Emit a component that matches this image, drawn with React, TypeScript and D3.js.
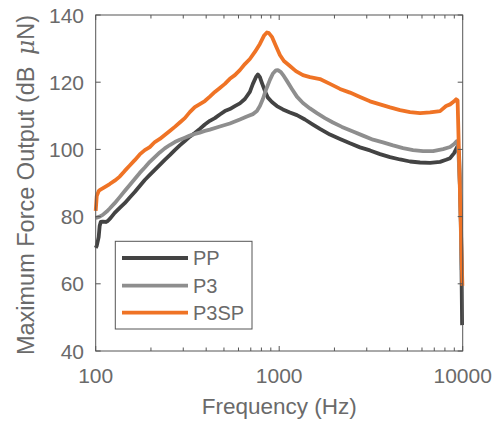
import React from 'react';
import * as d3 from 'd3';

const W = 498;
const H = 421;
const PLOT = { left: 95.7, right: 462.7, top: 15, bottom: 351 };

const FONT = '"Liberation Sans", Arial, sans-serif';
const TEXT_COLOR = '#6a6a6a';
const AXIS_COLOR = '#555555';

// PP
const ppFreq = [100, 101.3, 103.8, 105.1, 106.5, 109.2, 113.4, 116.3, 120.7, 126.9, 135.2, 143.9, 153.3, 163.2, 173.8, 185.1, 197.1, 209.9, 223.5, 237.9, 253.3, 269.8, 287.3, 305.9, 325.7, 346.8, 369.3, 393.3, 418.8, 446, 474.9, 505.7, 538.3, 573.3, 610.5, 650.1, 692.1, 718.7, 746.4, 765.4, 784.9, 804.8, 835.7, 867.8, 912.7, 971.4, 1047.6, 1144, 1249, 1381, 1527, 1667, 1891, 2144, 2431, 2756, 3125, 3543, 4018, 4556, 5164, 5856, 6641, 7528, 8118, 8537, 8978, 9204, 9379, 9559, 9801, 9925];
const ppDb = [70.7, 71.3, 73.9, 77.2, 78.4, 78.5, 78.4, 78.7, 79.6, 81.1, 82.6, 84.0, 85.7, 87.3, 89.1, 90.9, 92.4, 93.9, 95.4, 96.9, 98.3, 99.8, 101.2, 102.5, 103.8, 104.9, 106.1, 107.4, 108.5, 109.3, 110.4, 111.4, 112.0, 112.9, 113.7, 115.0, 117.1, 119.5, 121.5, 122.3, 121.5, 119.8, 117.4, 115.4, 114.1, 112.9, 111.9, 111.0, 110.2, 108.9, 107.4, 106.1, 104.4, 103.1, 101.8, 100.6, 99.7, 98.6, 97.7, 97.0, 96.4, 96.1, 96.0, 96.3, 96.9, 97.4, 98.9, 100.1, 101.0, 98.3, 76.0, 47.7];

// P3
const p3Freq = [100, 101.3, 105.1, 109.2, 114.8, 119.2, 126.9, 135.2, 143.9, 153.3, 163.2, 173.8, 185.1, 197.1, 209.9, 223.5, 237.9, 253.3, 269.8, 287.3, 305.9, 325.7, 346.8, 369.3, 393.3, 418.8, 474.9, 538.3, 610.5, 666.4, 718.7, 755.8, 784.9, 815, 846.3, 890, 924.2, 959.6, 984, 1021.6, 1061, 1101.6, 1173, 1249, 1347, 1471, 1606, 1775, 1963, 2198, 2524, 2861, 3245, 3679, 4172, 4731, 5364, 6081, 6896, 7818, 8537, 8978, 9262, 9439, 9679, 9863];
const p3Db = [79.6, 79.7, 80.0, 80.5, 81.5, 82.4, 84.0, 85.8, 87.6, 89.4, 91.2, 93.0, 94.6, 96.3, 97.7, 99.1, 100.3, 101.3, 102.2, 102.9, 103.5, 104.1, 104.6, 105.0, 105.5, 105.9, 106.8, 107.7, 108.9, 109.8, 110.5, 111.4, 112.9, 115.0, 117.7, 120.7, 122.6, 123.5, 123.6, 123.0, 121.8, 120.4, 118.0, 115.7, 113.8, 112.2, 110.8, 109.3, 108.0, 106.7, 105.3, 104.1, 102.9, 102.1, 101.2, 100.4, 99.8, 99.5, 99.5, 100.1, 100.7, 101.6, 102.4, 101.3, 87.9, 64.1];

// P3SP
const p3spFreq = [100, 101.3, 103.8, 105.1, 112.0, 119.2, 126.9, 135.2, 143.9, 153.3, 163.2, 173.8, 185.1, 197.1, 209.9, 223.5, 237.9, 253.3, 269.8, 287.3, 305.9, 325.7, 346.8, 369.3, 393.3, 418.8, 446, 474.9, 505.7, 538.3, 573.3, 610.5, 650.1, 692.1, 737.1, 784.9, 825.3, 857.1, 878.8, 912.7, 959.6, 1008.8, 1061, 1144, 1233, 1347, 1471, 1667, 1891, 2144, 2431, 2756, 3125, 3543, 4018, 4556, 5164, 5856, 6641, 7528, 8118, 8537, 8978, 9204, 9379, 9962];
const p3spDb = [81.7, 86.1, 87.6, 87.9, 88.8, 89.7, 90.7, 91.9, 93.6, 95.2, 96.8, 98.5, 99.8, 100.7, 102.2, 103.1, 104.3, 105.5, 106.7, 108.0, 109.3, 111.1, 112.6, 113.5, 114.4, 115.7, 117.1, 118.3, 119.5, 121.0, 122.1, 123.6, 125.4, 126.9, 129.0, 131.4, 133.8, 134.8, 134.6, 133.5, 130.8, 128.1, 126.3, 124.8, 123.3, 122.1, 121.5, 120.95, 119.5, 118.0, 116.9, 115.6, 114.3, 113.4, 112.5, 111.7, 111.1, 110.8, 111.0, 111.4, 112.9, 113.4, 114.3, 114.9, 114.6, 59.4];

const seriesNames = ['PP', 'P3', 'P3SP'];
const seriesColors = ['#434343', '#8e8e8e', '#ef7325'];

const yTicks = [40, 60, 80, 100, 120, 140];
const xMajorTicks = [100, 1000, 10000];
const xTickLabels = ['100', '1000', '10000'];

export default function App() {
  const x = d3.scaleLog().domain([100, 10000]).range([PLOT.left, PLOT.right]);
  const y = d3.scaleLinear().domain([40, 140]).range([PLOT.bottom, PLOT.top]);

  const series = [
    { f: ppFreq, db: ppDb },
    { f: p3Freq, db: p3Db },
    { f: p3spFreq, db: p3spDb },
  ].map((s, i) => ({
    name: seriesNames[i],
    color: seriesColors[i],
    points: s.f.map((f, j) => [f, s.db[j]] as [number, number]),
  }));

  const line = d3.line<[number, number]>()
    .x(d => x(d[0]))
    .y(d => y(d[1]))
    .curve(d3.curveLinear);

  const minorTicks = x.ticks().filter(t => !xMajorTicks.includes(t));

  const legend = { x: 115.3, y: 241.3, w: 136.7, h: 87.7, rowY: [258, 285.7, 312.7] };

  return (
    <svg width={W} height={H} style={{ position: 'absolute', left: 0, top: 0, background: '#fff' }}
      fontFamily={FONT}>
      {/* data */}
      <g fill="none" strokeWidth={3.8} strokeLinejoin="round">
        {series.map(s => (
          <path key={s.name} d={line(s.points) || ''} stroke={s.color} />
        ))}
      </g>

      {/* box */}
      <rect x={PLOT.left} y={PLOT.top} width={PLOT.right - PLOT.left} height={PLOT.bottom - PLOT.top}
        fill="none" stroke={AXIS_COLOR} strokeWidth={1} />

      {/* y ticks */}
      {yTicks.map(t => (
        <g key={`y${t}`}>
          <line x1={PLOT.left} x2={PLOT.left + 5} y1={y(t)} y2={y(t)} stroke={AXIS_COLOR} />
          <line x1={PLOT.right} x2={PLOT.right - 5} y1={y(t)} y2={y(t)} stroke={AXIS_COLOR} />
          <text x={84} y={y(t)} dy="0.36em" textAnchor="end" fontSize={21} fill={TEXT_COLOR}>{t}</text>
        </g>
      ))}

      {/* x ticks */}
      {xMajorTicks.map((t, i) => (
        <g key={`x${t}`}>
          <line x1={x(t)} x2={x(t)} y1={PLOT.bottom} y2={PLOT.bottom - 5} stroke={AXIS_COLOR} />
          <line x1={x(t)} x2={x(t)} y1={PLOT.top} y2={PLOT.top + 5} stroke={AXIS_COLOR} />
          <text x={x(t)} y={375} dy="0.36em" textAnchor="middle" fontSize={21} fill={TEXT_COLOR}>{xTickLabels[i]}</text>
        </g>
      ))}
      {minorTicks.map(t => (
        <g key={`m${t}`}>
          <line x1={x(t)} x2={x(t)} y1={PLOT.bottom} y2={PLOT.bottom - 3.5} stroke={AXIS_COLOR} />
          <line x1={x(t)} x2={x(t)} y1={PLOT.top} y2={PLOT.top + 3.5} stroke={AXIS_COLOR} />
        </g>
      ))}

      {/* axis labels */}
      <text x={(PLOT.left + PLOT.right) / 2} y={414} textAnchor="middle" fontSize={22.5} fill={TEXT_COLOR}>
        Frequency (Hz)
      </text>
      <text transform={`translate(33.5,${(PLOT.top + PLOT.bottom) / 2 + 2}) rotate(-90)`} textAnchor="middle"
        fontSize={23.5} fill={TEXT_COLOR}>
        Maximum Force Output (dB <tspan fontStyle="italic" fontFamily='"DejaVu Serif", serif' dx={5}>μ</tspan>N)
      </text>

      {/* legend */}
      <rect x={legend.x} y={legend.y} width={legend.w} height={legend.h} fill="#fff" stroke={AXIS_COLOR} />
      {series.map((s, i) => (
        <g key={`lg${s.name}`}>
          <line x1={122} x2={188} y1={legend.rowY[i]} y2={legend.rowY[i]} stroke={s.color} strokeWidth={3.8} />
          <text x={193} y={legend.rowY[i]} dy="0.36em" fontSize={20} fill={TEXT_COLOR}>{s.name}</text>
        </g>
      ))}
    </svg>
  );
}
